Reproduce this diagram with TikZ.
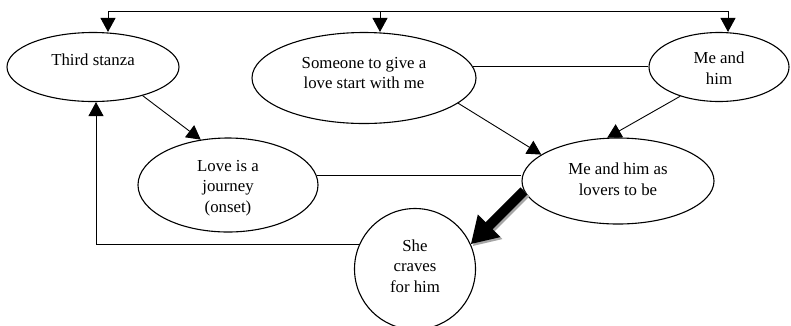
\documentclass[tikz,border=0pt]{standalone}
\usepackage{fontspec}
\setmainfont{Liberation Serif}
\usetikzlibrary{arrows.meta,shapes.geometric}
\begin{document}
\begin{tikzpicture}[x=1pt,y=-1pt,
  ell/.style={draw,ellipse,line width=1.1pt,inner sep=0pt},
  circ/.style={draw,circle,line width=1.1pt,inner sep=0pt},
  txt/.style={align=center,inner sep=0pt,font=\fontsize{16.8}{20.5}\selectfont},
  conn/.style={line width=0.9pt},
  arr/.style={conn,-{Triangle[length=14pt,width=15pt]}},
  bigarr/.style={line width=10pt,-{Triangle[length=26pt,width=30pt]}}]
\useasboundingbox (0,0) rectangle (791,325);

% ellipses and circle
\node[ell,minimum width=172pt,minimum height=69pt] (ts) at (93,67) {};
\node[ell,minimum width=224pt,minimum height=91pt] (sg) at (364,78) {};
\node[ell,minimum width=140pt,minimum height=69pt] (mh) at (719,67) {};
\node[ell,minimum width=180pt,minimum height=94pt] (lj) at (228,185) {};
\node[ell,minimum width=192pt,minimum height=86pt] (lv) at (618,181) {};
\node[circ,minimum size=121pt] (sc) at (415,269) {};

% texts
\node[txt] (tsT) at ([yshift=7pt]ts.center) {Third stanza};
\node[txt] (sgT) at ([yshift=5pt]sg.center) {Someone to give a\\love start with me};
\node[txt] (mhT) at ([yshift=-1pt]mh.center) {Me and\\him};
\node[txt] (ljT) at ([yshift=-3pt]lj.center) {Love is a\\journey\\(onset)};
\node[txt] (lvT) at ([yshift=2pt]lv.center) {Me and him as\\lovers to be};
\node[txt] (scT) at ([yshift=3pt]sc.center) {She\\craves\\for him};

% top bracket feeding three nodes
\coordinate (tL) at (108,11);
\coordinate (tM) at (380,11);
\coordinate (tR) at (728,11);
\draw[conn] (tL) -- (tR);
\draw[arr] (tL) -- (tL |- ts.north);
\draw[arr] (tM) -- (tM |- sg.north);
\draw[arr] (tR) -- (tR |- mh.north);

% plain links
\draw[conn] (sg.6) -- (sg.6 -| mh.west);
\draw[conn] (lj.6) -- (lj.6 -| lv.west);

% arrows
\draw[arr] (ts.-30) -- (lj.121);
\draw[arr] (sg.-15) -- (lv.161);
\draw[arr] (mh.217) -- (lv.104);
\draw[arr] (sc.156) -| ([xshift=3pt]ts.south);

% heavy arrow with shadow
\draw[bigarr,draw=gray!70,fill=gray!70] ([shift={(2pt,-2pt)}]lv.186) -- ([shift={(2pt,-2pt)}]sc.24);
\draw[bigarr] (lv.186) -- (sc.24);
\end{tikzpicture}
\end{document}
